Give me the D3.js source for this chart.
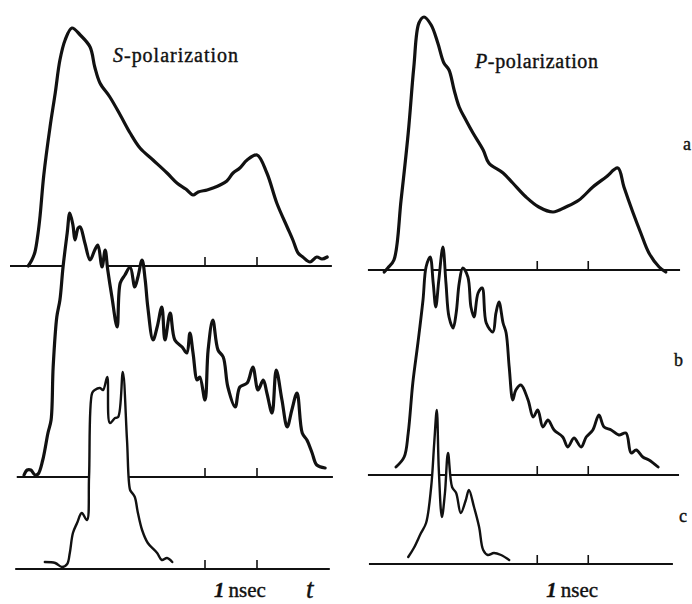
<!DOCTYPE html>
<html>
  <head>
    <meta charset="utf-8" />
    <title>S/P polarization traces</title>
    <script src="https://d3js.org/d3.v7.min.js"></script>
    <style>
      body { margin: 0; background: #fff; }
    </style>
  </head>
  <body>
    <svg id="chart"></svg>
    <script>
      // time in ns (from left end of each sweep), amplitude in arbitrary units
      var tickNs = [3.75, 4.75];
      var rowLabels = ["a", "b", "c"];
      var titles = ["S-polarization", "P-polarization"];

      // S-polarization
      var sA_t = [0.35,0.42,0.48,0.54,0.58,0.65,0.77,0.87,0.96,1.06,1.19,1.35,1.54,1.63,1.73,1.92,2.12,2.31,2.5,2.75,3.02,3.21,3.38,3.52,3.62,3.79,3.9,4.04,4.17,4.29,4.42,4.56,4.75,4.94,5.13,5.33,5.44,5.54,5.63,5.77,5.9,6.0,6.1];
      var sA_v = [0,6,14,33,51,91,139,173,206,226,238,231,219,199,183,169,151,133,118,106,93,83,77,71,74,76,78,81,85,93,98,106,111,93,63,39,26,13,9,4,9,7,9];
      var sB_t = [0.27,0.33,0.4,0.48,0.54,0.63,0.73,0.79,0.83,0.9,0.96,1.02,1.1,1.15,1.21,1.25,1.31,1.35,1.44,1.54,1.63,1.69,1.77,1.83,1.88,1.96,2.06,2.12,2.21,2.31,2.4,2.46,2.54,2.6,2.65,2.75,2.83,2.92,2.98,3.08,3.17,3.31,3.4,3.46,3.52,3.6,3.65,3.75,3.81,3.9,4.0,4.1,4.19,4.33,4.42,4.56,4.67,4.77,4.87,4.94,5.04,5.12,5.23,5.33,5.42,5.52,5.62,5.71,5.81,5.9,6.06];
      var sB_v = [2,7,7,2,3,17,44,57,110,160,177,210,244,264,252,237,249,250,234,217,227,232,210,227,207,180,150,194,202,210,190,200,217,197,170,137,150,170,137,164,137,130,124,144,124,97,100,77,127,157,127,120,90,70,90,94,110,87,97,84,64,107,77,50,67,84,44,37,24,12,9];
      var sC_t = [0.67,0.87,1.0,1.1,1.15,1.21,1.29,1.38,1.48,1.52,1.58,1.63,1.73,1.79,1.87,1.92,2.02,2.08,2.17,2.25,2.31,2.35,2.4,2.46,2.54,2.65,2.83,2.92,3.02,3.12];
      var sC_v = [7,6,2,5,16,36,46,56,49,92,176,179,181,179,192,146,151,152,197,129,79,76,72,56,39,26,16,9,11,7];

      // P-polarization
      var pA_t = [0.75,0.82,0.94,1.08,1.22,1.33,1.43,1.53,1.67,1.8,1.92,2.02,2.12,2.22,2.35,2.49,2.69,2.8,3.08,3.27,3.53,3.78,4.06,4.31,4.57,4.84,5.1,5.33,5.45,5.63,5.78,5.94,6.14,6.27];
      var pA_v = [-2,2,10,70,137,203,247,253,245,227,207,200,180,163,150,137,120,107,97,87,73,63,58,63,70,83,93,102,83,57,37,17,3,-2];
      var pB_t = [0.98,1.14,1.22,1.31,1.41,1.51,1.57,1.65,1.71,1.76,1.82,1.9,1.96,2.02,2.1,2.16,2.22,2.29,2.39,2.45,2.51,2.59,2.67,2.75,2.88,2.94,3.0,3.08,3.14,3.2,3.27,3.33,3.43,3.57,3.67,3.76,3.86,3.96,4.08,4.25,4.35,4.47,4.61,4.71,4.84,4.96,5.06,5.2,5.35,5.49,5.59,5.69,5.82,5.94,6.12];
      var pB_v = [8,18,42,92,132,175,208,218,192,168,195,228,192,158,147,162,192,207,198,168,158,182,187,152,143,162,173,152,142,108,75,85,90,75,58,65,48,55,45,38,28,37,28,38,45,60,48,45,40,42,22,25,18,15,8];
      var pC_t = [1.22,1.33,1.47,1.57,1.67,1.73,1.78,1.82,1.88,1.94,2.0,2.08,2.16,2.25,2.35,2.41,2.51,2.61,2.69,2.78,2.9,3.04,3.2];
      var pC_v = [7,16,31,41,77,121,154,94,47,71,111,77,71,51,64,74,57,37,14,9,11,9,4];

      var columns = [
        {x0: 10, k: 52, title: titles[0], titleX: 113, titleY: 62, titleLen: 125,
         rows: [
           {t: sA_t, v: sA_v, base: 266, from: 0, to: 6.19, w: 3.2},
           {t: sB_t, v: sB_v, base: 477, from: 0.13, to: 6.21, w: 3.2},
           {t: sC_t, v: sC_v, base: 569, from: 0.1, to: 6.15, w: 2.4}
         ]},
        {x0: 346, k: 51, title: titles[1], titleX: 475, titleY: 68, titleLen: 123,
         rows: [
           {t: pA_t, v: pA_v, base: 270, from: 0.43, to: 6.55, w: 3.2},
           {t: pB_t, v: pB_v, base: 475, from: 0.43, to: 6.53, w: 2.9},
           {t: pC_t, v: pC_v, base: 564, from: 0.45, to: 6.41, w: 2.4}
         ]}
      ];

      var serif = "'Liberation Serif'";
      var width = 692, height = 604;
      var svg = d3.select("#chart").attr("width", width).attr("height", height);
      svg.append("rect").attr("width", width).attr("height", height).attr("fill", "#fff");

      function ink(sel) {
        sel.style("font-family", serif)
          .attr("fill", "#111")
          .attr("stroke", "#111")
          .attr("stroke-width", 0.4);
      }

      columns.forEach(function(col) {
        var x = d3.scaleLinear().domain([0, 1]).range([col.x0, col.x0 + col.k]);
        var g = svg.append("g");

        col.rows.forEach(function(row) {
          var y = d3.scaleLinear().domain([0, 250]).range([row.base, row.base - 250]);
          var pts = row.t.map(function(t, i) { return [t, row.v[i]]; });

          // white under-fill hides the baseline of the trace above
          g.append("path")
            .datum(pts)
            .attr("fill", "#fff")
            .attr("d", d3.area()
              .x(function(d) { return x(d[0]); })
              .y0(row.base)
              .y1(function(d) { return y(d[1]); })
              .curve(d3.curveCatmullRom.alpha(0.5)));

          g.append("line")
            .attr("x1", x(row.from)).attr("x2", x(row.to))
            .attr("y1", row.base).attr("y2", row.base)
            .attr("stroke", "#111").attr("stroke-width", 2);

          g.selectAll(null)
            .data(tickNs)
            .enter().append("line")
            .attr("x1", function(d) { return x(d); })
            .attr("x2", function(d) { return x(d); })
            .attr("y1", row.base).attr("y2", row.base - 9)
            .attr("stroke", "#111").attr("stroke-width", 1.6);

          g.append("path")
            .datum(pts)
            .attr("fill", "none")
            .attr("stroke", "#111")
            .attr("stroke-width", row.w)
            .attr("stroke-linejoin", "round")
            .attr("stroke-linecap", "round")
            .attr("d", d3.line()
              .x(function(d) { return x(d[0]); })
              .y(function(d) { return y(d[1]); })
              .curve(d3.curveCatmullRom.alpha(0.5)));
        });

        // title with italic S / P
        var tt = g.append("text")
          .attr("x", col.titleX).attr("y", col.titleY)
          .attr("font-size", 20)
          .attr("textLength", col.titleLen)
          .attr("lengthAdjust", "spacing")
          .call(ink);
        tt.append("tspan").attr("font-style", "italic").text(col.title.charAt(0));
        tt.append("tspan").text(col.title.slice(1));

        // "1 nsec" under first tick
        var ns = g.append("text")
          .attr("x", x(tickNs[0]) + 9).attr("y", 597)
          .attr("font-size", 21)
          .call(ink);
        ns.append("tspan").attr("font-style", "italic").attr("font-weight", "bold").text("1");
        ns.append("tspan").attr("dx", 4).text("nsec");
      });

      svg.append("text")
        .attr("x", 306).attr("y", 598)
        .attr("font-size", 27)
        .attr("font-style", "italic")
        .call(ink)
        .text("t");

      var labelPos = [[683, 150], [674, 366], [679, 522]];
      svg.selectAll(".rowlab")
        .data(rowLabels)
        .enter().append("text")
        .attr("class", "rowlab")
        .attr("x", function(d, i) { return labelPos[i][0]; })
        .attr("y", function(d, i) { return labelPos[i][1]; })
        .attr("font-size", 18)
        .call(ink)
        .text(function(d) { return d; });
    </script>
  </body>
</html>
